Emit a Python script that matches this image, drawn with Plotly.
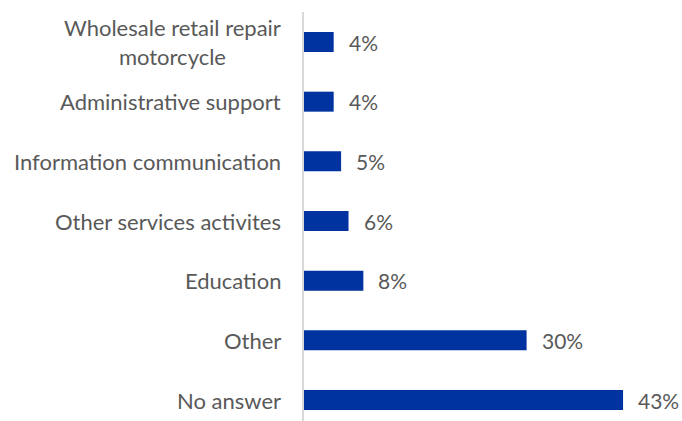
import plotly.graph_objects as go

# Sector shares, listed bottom to top as plotted
categories = [
    "No answer",
    "Other",
    "Education",
    "Other services activites",
    "Information communication",
    "Administrative support",
    "Wholesale retail repair<br>motorcycle",
]
values = [43, 30, 8, 6, 5, 4, 4]
value_labels = [f"{v}%" for v in values]

bar_color = "#0033A0"
text_color = "#595959"
font_family = "Lato, 'Open Sans', sans-serif"

fig = go.Figure(
    go.Bar(
        x=values,
        y=categories,
        orientation="h",
        marker=dict(color=bar_color, line=dict(width=0)),
        hoverinfo="skip",
    )
)

# Category names, right-aligned against the axis, centred when wrapped
annotations = []
for cat in categories:
    annotations.append(
        dict(
            x=0, xref="paper", y=cat, yref="y",
            text=cat, showarrow=False,
            xanchor="right", yanchor="middle", align="center",
            xshift=-21,
            font=dict(family=font_family, size=22, color=text_color),
        )
    )

# Value labels just past each bar end
for cat, v, lab in zip(categories, values, value_labels):
    annotations.append(
        dict(
            x=v, xref="x", y=cat, yref="y",
            text=lab, showarrow=False,
            xanchor="left", yanchor="middle",
            xshift=13,
            font=dict(family=font_family, size=21, color=text_color),
        )
    )

fig.update_layout(
    width=682,
    height=421,
    margin=dict(l=304, r=7, t=12, b=0),
    paper_bgcolor="white",
    plot_bgcolor="white",
    bargap=0.665,
    showlegend=False,
    annotations=annotations,
    xaxis=dict(
        range=[0, 50],
        visible=False,
        fixedrange=True,
    ),
    yaxis=dict(
        type="category",
        categoryorder="array",
        categoryarray=categories,
        range=[-0.352, 6.503],
        showticklabels=False,
        ticks="",
        showgrid=False,
        zeroline=False,
        showline=True,
        linecolor="#d9d9d9",
        linewidth=1.5,
        fixedrange=True,
    ),
)

fig.write_html("out.html")
